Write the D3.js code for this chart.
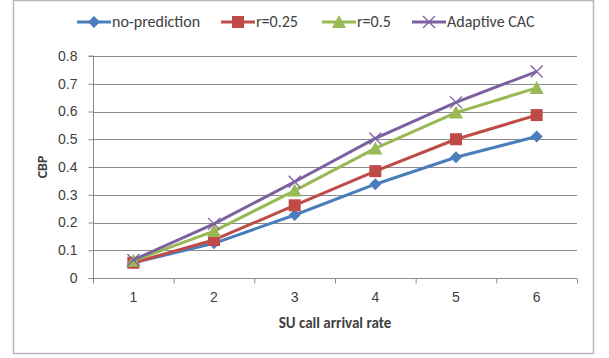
<!DOCTYPE html>
<html>
<head>
<meta charset="utf-8">
<script src="https://cdn.jsdelivr.net/npm/d3@7"></script>
<style>
  body { margin: 0; background: #fff; }
  svg { font-family: Carlito, "Liberation Sans", Arial, sans-serif; }
</style>
</head>
<body>
<svg id="chart"></svg>
<script>
const rates = [1, 2, 3, 4, 5, 6];
const noPrediction = [0.055, 0.125, 0.227, 0.338, 0.435, 0.51];
const r025 = [0.055, 0.137, 0.262, 0.385, 0.5, 0.587];
const r05 = [0.062, 0.169, 0.315, 0.467, 0.596, 0.685];
const adaptive = [0.065, 0.195, 0.347, 0.503, 0.633, 0.744];
const yTicks = [0, 0.1, 0.2, 0.3, 0.4, 0.5, 0.6, 0.7, 0.8];

const series = [
  { name: 'no-prediction', values: noPrediction, color: '#4a7ebb', marker: 'diamond' },
  { name: 'r=0.25', values: r025, color: '#be4b48', marker: 'square' },
  { name: 'r=0.5', values: r05, color: '#98b954', marker: 'triangle' },
  { name: 'Adaptive CAC', values: adaptive, color: '#7d60a0', marker: 'cross' }
];

const width = 609, height = 358;
const svg = d3.select('#chart').attr('width', width).attr('height', height);

// outer frame
svg.append('rect')
  .attr('x', 13.5).attr('y', 0.5).attr('width', 580).attr('height', 353)
  .attr('fill', '#fff').attr('stroke', '#b8b8b8').attr('stroke-width', 1.5);

const plotL = 93, plotR = 577, plotT = 56, plotB = 278;

const x = d3.scaleBand().domain(rates).range([plotL, plotR]);
const y = d3.scaleLinear().domain([0, 0.8]).range([plotB, plotT]);

// gridlines
svg.append('g')
  .selectAll('line')
  .data(yTicks.slice(1))
  .enter()
  .append('line')
  .attr('x1', plotL).attr('x2', plotR)
  .attr('y1', d => Math.round(y(d)) + 0.5).attr('y2', d => Math.round(y(d)) + 0.5)
  .attr('stroke', '#8c8c8c').attr('stroke-width', 1);

// y axis
const yAxis = svg.append('g')
  .attr('transform', `translate(${plotL + 0.5}, 0)`)
  .call(d3.axisLeft(y).tickValues(yTicks).tickFormat(d => d === 0 ? '0' : d3.format('.1f')(d)).tickSize(5).tickPadding(11));
yAxis.selectAll('path, line').attr('stroke', '#8c8c8c');
yAxis.selectAll('text').attr('fill', '#404040').style('font-size', '14px');
yAxis.select('.domain').attr('d', `M-5,${plotT}H0V${plotB + 0.5}H-5`);

// x axis
const xAxis = svg.append('g')
  .attr('transform', `translate(0, ${plotB + 0.5})`)
  .call(d3.axisBottom(x).tickSize(0).tickPadding(14));
xAxis.selectAll('path').attr('stroke', '#8c8c8c');
xAxis.selectAll('text').attr('fill', '#404040').style('font-size', '14px');
xAxis.select('.domain').attr('d', `M${plotL},0H${plotR}`);
xAxis.append('g')
  .selectAll('line')
  .data(rates.map(r => x(r)).concat([x(6) + x.bandwidth()]))
  .enter()
  .append('line')
  .attr('x1', d => d + 0.5).attr('x2', d => d + 0.5)
  .attr('y1', 0).attr('y2', 5)
  .attr('stroke', '#8c8c8c');

// axis titles
svg.append('text')
  .attr('x', (plotL + plotR) / 2).attr('y', 328)
  .attr('text-anchor', 'middle')
  .attr('fill', '#404040')
  .style('font-size', '15px').style('font-weight', 'bold')
  .text('SU call arrival rate');

svg.append('text')
  .attr('transform', `translate(47, ${(plotT + plotB) / 2}) rotate(-90)`)
  .attr('text-anchor', 'middle')
  .attr('fill', '#404040')
  .style('font-size', '14px').style('font-weight', 'bold')
  .text('CBP');

const cx = d => x(d) + x.bandwidth() / 2;

function drawMarker(g, type, color, px, py) {
  if (type === 'diamond') {
    g.append('path').attr('d', `M${px},${py - 6}L${px + 6},${py}L${px},${py + 6}L${px - 6},${py}Z`).attr('fill', color);
  } else if (type === 'square') {
    g.append('rect').attr('x', px - 6).attr('y', py - 6).attr('width', 12).attr('height', 12).attr('fill', color);
  } else if (type === 'triangle') {
    g.append('path').attr('d', `M${px},${py - 7}L${px + 7},${py + 6}L${px - 7},${py + 6}Z`).attr('fill', color);
  } else {
    g.append('path').attr('d', `M${px - 6},${py - 6}L${px + 6},${py + 6}M${px - 6},${py + 6}L${px + 6},${py - 6}`)
      .attr('stroke', color).attr('stroke-width', 1.3).attr('fill', 'none');
  }
}

const line = d3.line().x(d => cx(d[0])).y(d => y(d[1]));

series.forEach(s => {
  const pts = rates.map((r, i) => [r, s.values[i]]);
  svg.append('path')
    .datum(pts)
    .attr('d', line)
    .attr('fill', 'none')
    .attr('stroke', s.color)
    .attr('stroke-width', 3)
    .attr('stroke-linejoin', 'round');
  const mg = svg.append('g');
  pts.forEach(p => drawMarker(mg, s.marker, s.color, cx(p[0]), y(p[1])));
});

// legend
const legendX = [77, 221, 322, 412];
const legend = svg.append('g');
series.forEach((s, i) => {
  const lx = legendX[i], ly = 22;
  legend.append('line')
    .attr('x1', lx).attr('x2', lx + 34).attr('y1', ly).attr('y2', ly)
    .attr('stroke', s.color).attr('stroke-width', 3);
  drawMarker(legend, s.marker, s.color, lx + 17, ly);
  legend.append('text')
    .attr('x', lx + 35).attr('y', ly + 5)
    .attr('fill', '#404040')
    .style('font-size', '16px')
    .text(s.name);
});
</script>
</body>
</html>
